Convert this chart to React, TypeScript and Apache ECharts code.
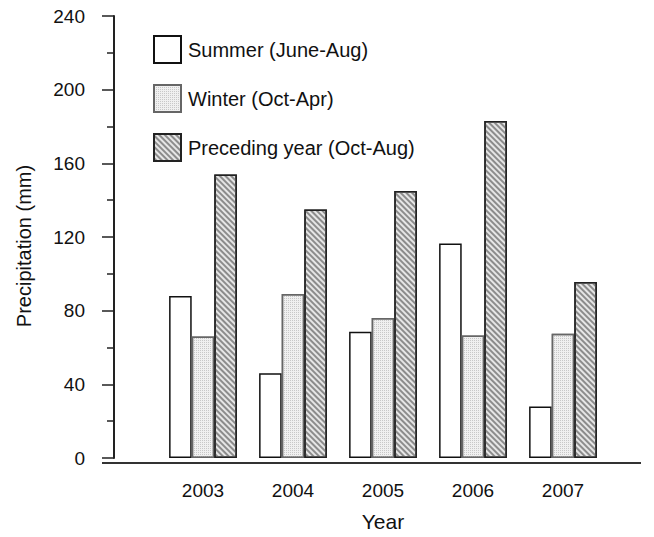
import React, { useEffect, useRef } from "react";
import * as echarts from "echarts";

const years = ["2003", "2004", "2005", "2006", "2007"];
const summer = [88, 46, 68.5, 116.5, 28];
const winter = [66, 89, 76, 66.5, 67.5];
const preceding = [154, 135, 145, 183, 95.5];
const seriesNames = ["Summer (June-Aug)", "Winter (Oct-Apr)", "Preceding year (Oct-Aug)"];
const yTitle = "Precipitation (mm)";

const FONT = "'Liberation Sans', Arial, sans-serif";

export default function App() {
  const ref = useRef<HTMLDivElement>(null);
  useEffect(() => {
    if (!ref.current) return;
    const chart = echarts.init(ref.current, null, { renderer: "svg", width: 654, height: 537 });
    const bw = 22.6;
    chart.setOption({
      animation: false,
      backgroundColor: "#ffffff",
      textStyle: { fontFamily: FONT, color: "#111" },
      grid: { left: 158, right: 46, top: 16, bottom: 74, containLabel: false },
      legend: {
        orient: "vertical",
        left: 153,
        top: 35,
        padding: 0,
        itemWidth: 27,
        itemHeight: 27,
        itemGap: 20,
        icon: "rect",
        textStyle: { fontFamily: FONT, fontSize: 20, color: "#111", padding: [0, 0, 0, 2] },
        data: seriesNames,
      },
      xAxis: {
        type: "category",
        data: years,
        axisLine: { show: false },
        axisTick: { show: false },
        axisLabel: { fontFamily: FONT, fontSize: 19, color: "#111", margin: 23 },
        name: "Year",
        nameLocation: "middle",
        nameGap: 53,
        nameTextStyle: { fontFamily: FONT, fontSize: 21, color: "#111" },
      },
      yAxis: {
        type: "value",
        min: 0,
        max: 240,
        interval: 40,
        offset: 44,
        splitLine: { show: false },
        axisLine: { show: true, lineStyle: { color: "#222", width: 2 } },
        axisTick: { show: true, length: 12, lineStyle: { color: "#222", width: 1.5 } },
        minorTick: { show: true, splitNumber: 2, length: 7, lineStyle: { color: "#222", width: 1.5 } },
        axisLabel: { fontFamily: FONT, fontSize: 19, color: "#111", margin: 29 },
      },
      graphic: [
        {
          type: "line",
          shape: { x1: 102, y1: 463, x2: 641, y2: 463 },
          style: { stroke: "#333", lineWidth: 2 },
          z: 100,
        },
        {
          type: "text",
          x: 24,
          y: 246,
          rotation: Math.PI / 2,
          style: {
            text: yTitle,
            fontFamily: FONT,
            fontSize: 20,
            fill: "#111",
            align: "center",
            verticalAlign: "middle",
          },
        },
      ],
      series: [
        {
          name: seriesNames[0],
          type: "bar",
          data: summer,
          barWidth: bw,
          barGap: "0%",
          itemStyle: { color: "#ffffff", borderColor: "#111", borderWidth: 1.5 },
        },
        {
          name: seriesNames[1],
          type: "bar",
          data: winter,
          barWidth: bw,
          barGap: "0%",
          itemStyle: {
            color: "#f0f0f0",
            borderColor: "#666",
            borderWidth: 1.5,
            decal: {
              symbol: "rect",
              symbolSize: 1,
              color: "#c8c8c8",
              dashArrayX: [1, 1],
              dashArrayY: [1, 1],
              rotation: 0,
            },
          },
        },
        {
          name: seriesNames[2],
          type: "bar",
          data: preceding,
          barWidth: bw,
          barGap: "0%",
          itemStyle: {
            color: "#e6e6e6",
            borderColor: "#222",
            borderWidth: 1.5,
            decal: {
              symbol: "rect",
              symbolSize: 1,
              color: "#8c8c8c",
              dashArrayX: [1, 0],
              dashArrayY: [1.2, 1.6],
              rotation: Math.PI / 4,
            },
          },
        },
      ],
    });
    return () => chart.dispose();
  }, []);
  return (
    <div
      ref={ref}
      style={{ position: "fixed", left: 0, top: 0, width: 654, height: 537, background: "#fff" }}
    />
  );
}
